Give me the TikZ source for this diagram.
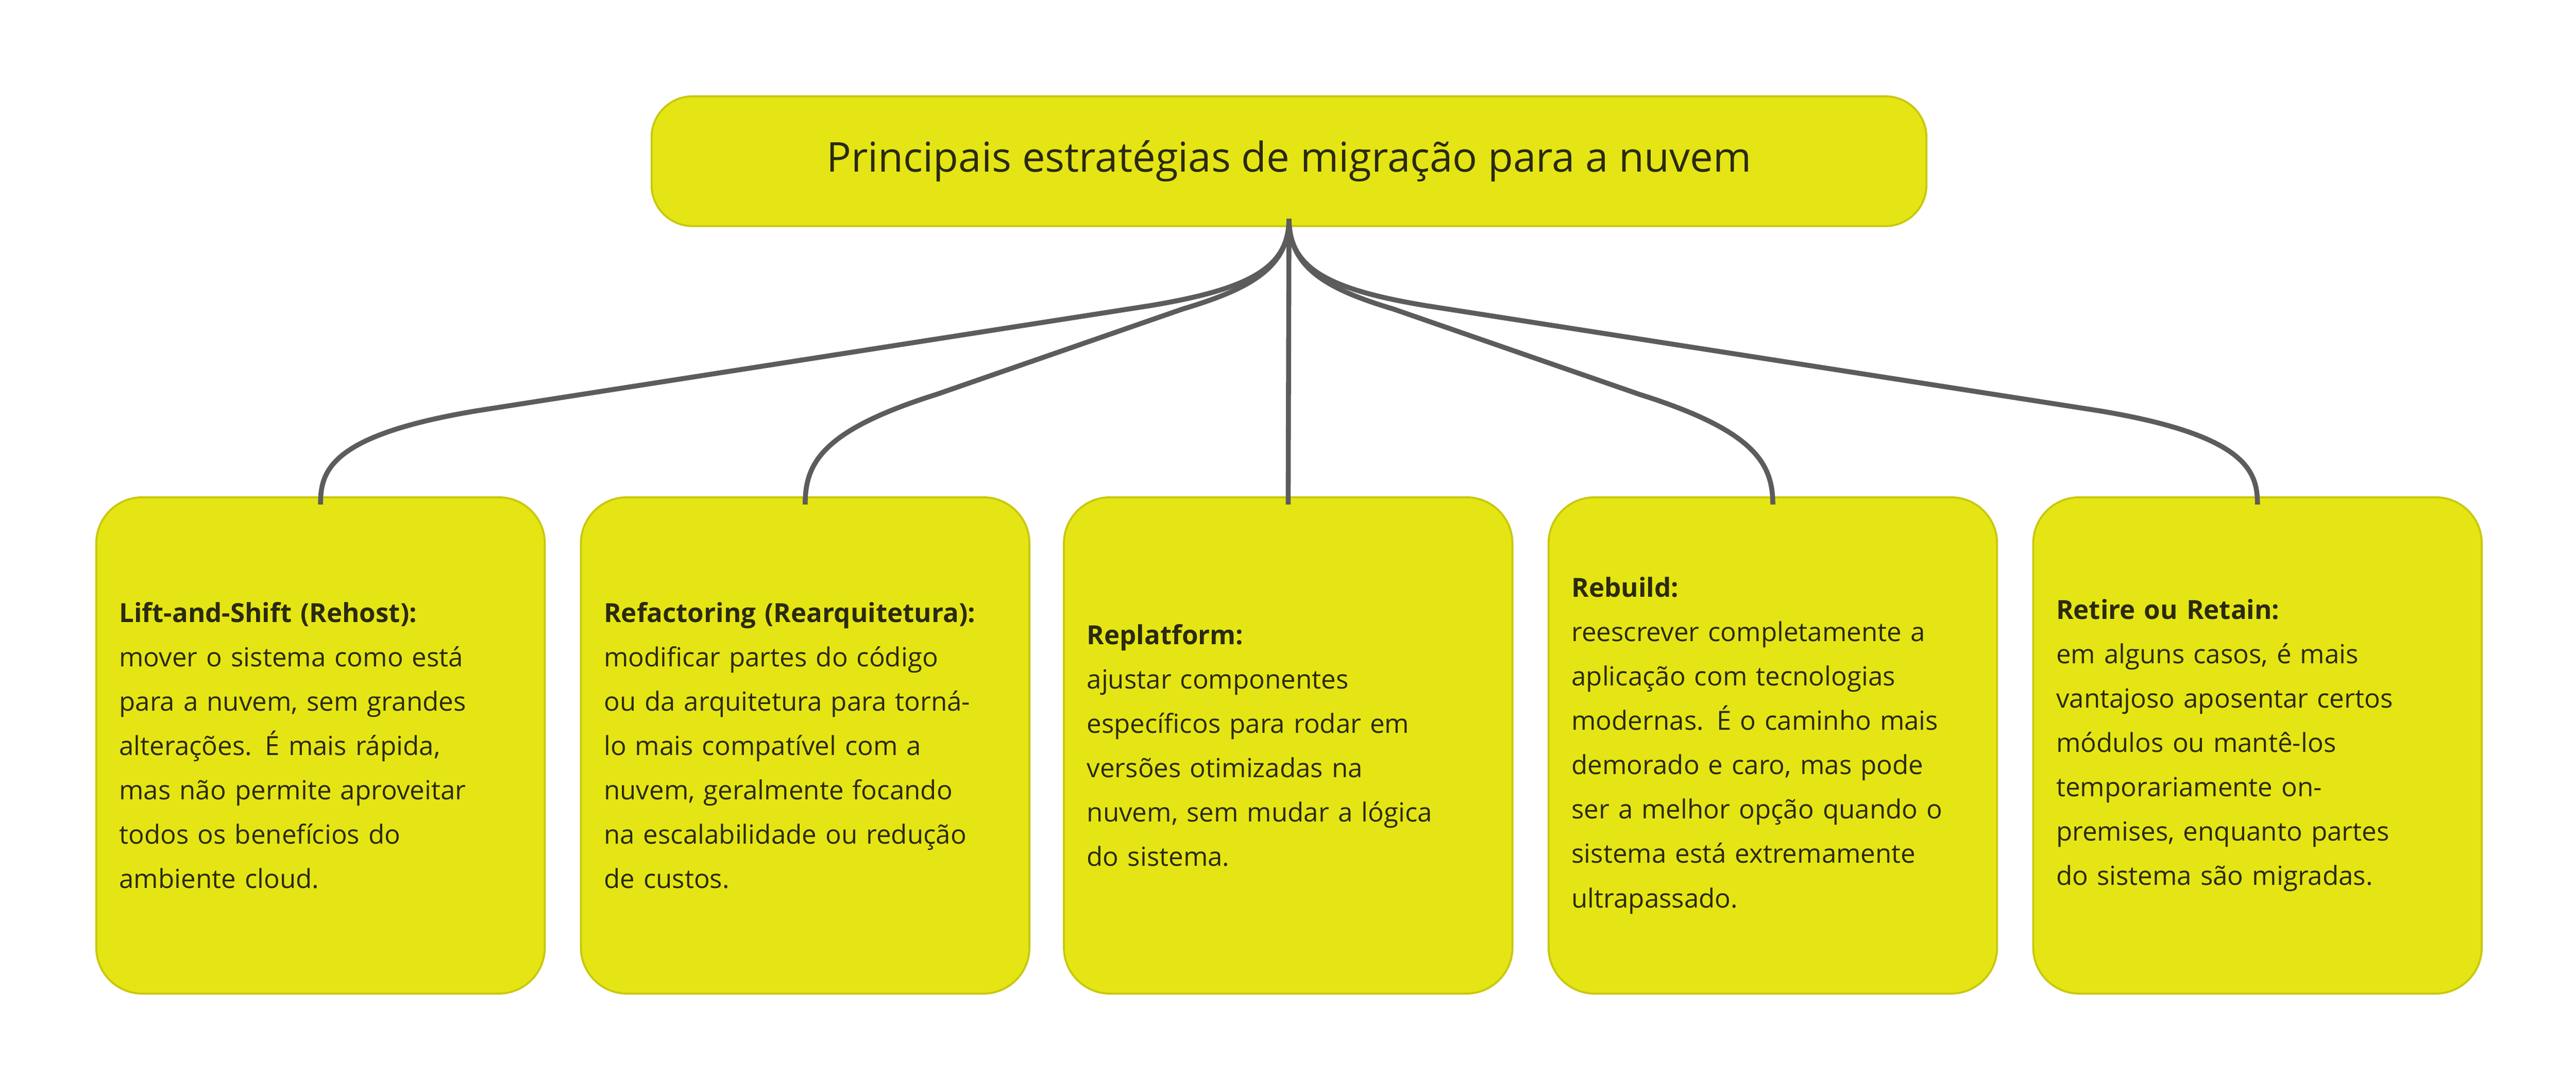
\documentclass[tikz,border=0pt]{standalone}
\usepackage{fontspec}
\setmainfont{Open Sans}
\begin{document}
\begin{tikzpicture}[x=1pt,y=-1pt,
  card/.style={draw=boxline,fill=boxfill,line width=1.2pt,rounded corners=28pt,
    minimum width=273pt,minimum height=302pt,text width=245pt,align=left,inner sep=14pt,
    anchor=north west,font=\fontsize{16}{27}\selectfont,text=txt},
  link/.style={draw=linkc,line width=3pt}]
\definecolor{boxfill}{HTML}{E5E515}
\definecolor{boxline}{HTML}{C8C80E}
\definecolor{linkc}{HTML}{5C5C5C}
\definecolor{txt}{HTML}{2A2A10}
\useasboundingbox[fill=white] (0,0) rectangle (1568,663);
\node[draw=boxline,fill=boxfill,line width=1.2pt,rounded corners=25pt,minimum width=776pt,minimum height=79pt,
  font=\fontsize{25}{30}\selectfont,text=txt,anchor=north west] (top) at (396,58) {Principais estratégias de migração para a nuvem};
\node[card] (b1) at (58,302) {\textbf{Lift-and-Shift (Rehost):}\\mover o sistema como está\\para a nuvem, sem grandes\\alterações. É mais rápida,\\mas não permite aproveitar\\todos os benefícios do\\ambiente cloud.};
\node[card] (b2) at (353,302) {\textbf{Refactoring (Rearquitetura):}\\modificar partes do código\\ou da arquitetura para torná-\\lo mais compatível com a\\nuvem, geralmente focando\\na escalabilidade ou redução\\de custos.};
\node[card] (b3) at (647,302) {\textbf{Replatform:}\\ajustar componentes\\específicos para rodar em\\versões otimizadas na\\nuvem, sem mudar a lógica\\do sistema.};
\node[card] (b4) at (942,302) {\textbf{Rebuild:}\\reescrever completamente a\\aplicação com tecnologias\\modernas. É o caminho mais\\demorado e caro, mas pode\\ser a melhor opção quando o\\sistema está extremamente\\ultrapassado.};
\node[card] (b5) at (1237,302) {\textbf{Retire ou Retain:}\\em alguns casos, é mais\\vantajoso aposentar certos\\módulos ou mantê-los\\temporariamente on-\\premises, enquanto partes\\do sistema são migradas.};
\coordinate (s) at ([yshift=5pt]top.south);
\foreach \b in {b1,b2,b3,b4,b5}{\coordinate (e\b) at ([yshift=-5pt]\b.north);}
\draw[link] (s) .. controls ++(0,30) and ++(60,-10) .. (700,186) -- (290,250) .. controls ++(-90,15) and ++(0,-20) .. (eb1);
\draw[link] (s) .. controls ++(0,30) and ++(40,-12) .. (720,188) -- (570,240) .. controls ++(-70,22) and ++(0,-25) .. (eb2);
\draw[link] (s) -- (eb3);
\draw[link] (s) .. controls ++(0,30) and ++(-40,-12) .. (848,188) -- (998,240) .. controls ++(70,22) and ++(0,-25) .. (eb4);
\draw[link] (s) .. controls ++(0,30) and ++(-60,-10) .. (868,186) -- (1278,250) .. controls ++(90,15) and ++(0,-20) .. (eb5);
\end{tikzpicture}
\end{document}
